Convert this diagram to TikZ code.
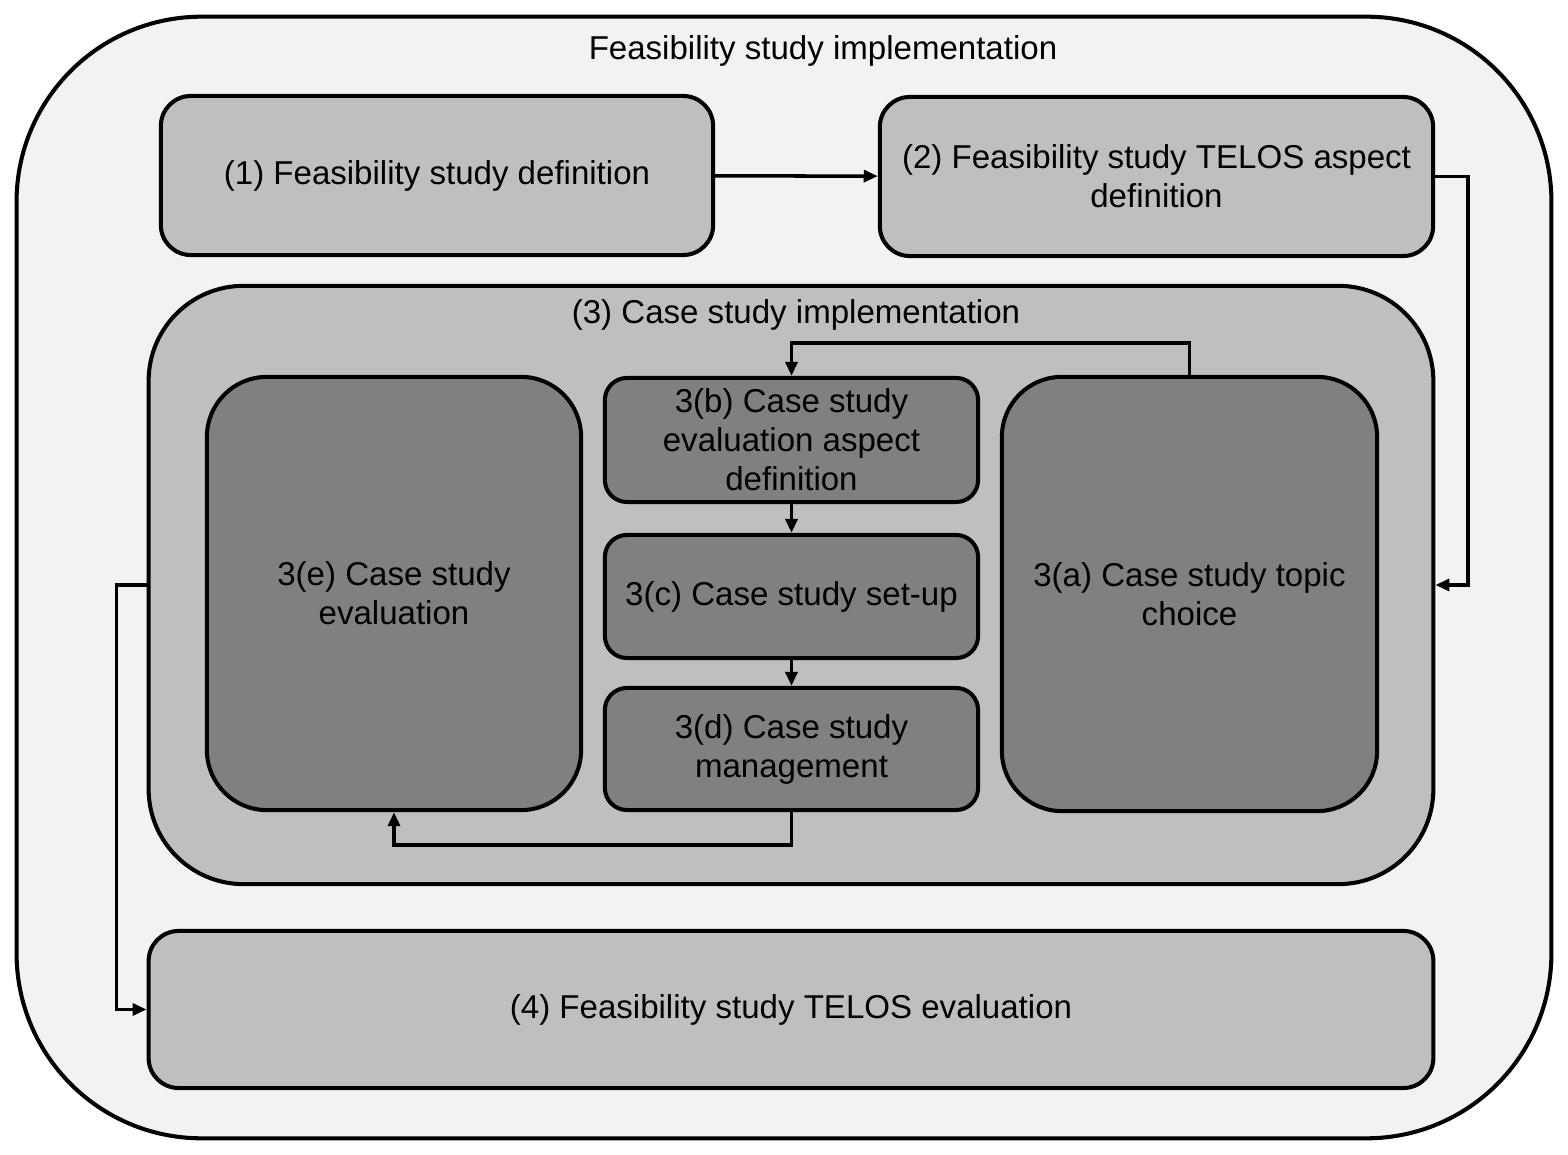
\documentclass[tikz,border=0pt]{standalone}
\usepackage{fontspec}
\setmainfont{Liberation Sans}
\usepackage{xcolor}
\usepackage{tikz}
\usetikzlibrary{positioning,arrows.meta,calc}
\definecolor{palegray}{RGB}{242,242,242}
\definecolor{midgray}{RGB}{191,191,191}
\definecolor{darkgray}{RGB}{128,128,128}

\begin{document}
\begin{tikzpicture}[x=0.01cm, y=-0.01cm,
        box/.style={rectangle, draw=black, line width=1.15pt, fill=midgray,
                    inner sep=0pt, align=center,
                    font=\fontsize{9.4}{11.1}\selectfont},
        sub/.style={box, fill=darkgray},
        txt/.style={inner sep=0pt, font=\fontsize{9.4}{11.1}\selectfont},
        arr/.style={-{Triangle[length=4pt,width=3.4pt]}, line width=1pt, black}
      ]
        \useasboundingbox (0,0) rectangle (1568,1155);
        % outer frame
        \node[box, fill=palegray, rounded corners=1.85cm,
              minimum width=15.34cm, minimum height=11.21cm] (outer) at (784,577.5) {};
        \node[txt] (title) at (823,51) {Feasibility study implementation};
        % top row
        \node[box, rounded corners=0.3cm, minimum width=5.52cm, minimum height=1.59cm]
              (b1) at (437,175.5) {(1) Feasibility study definition};
        \node[box, rounded corners=0.3cm, minimum width=5.53cm, minimum height=1.59cm]
              (b2) at (1156.5,176.5) {(2) Feasibility study TELOS aspect\\definition};
        % case study block
        \node[box, rounded corners=0.95cm, minimum width=12.84cm, minimum height=5.98cm]
              (b3) at (791,585) {};
        \node[txt] (t3) at (796,315) {(3) Case study implementation};
        \node[sub, rounded corners=0.6cm, minimum width=3.74cm, minimum height=4.33cm]
              (s3e) at (394,593.5) {3(e) Case study\\evaluation};
        \node[sub, rounded corners=0.22cm, minimum width=3.73cm, minimum height=1.24cm]
              (s3b) at (791.5,440) {3(b) Case study\\evaluation aspect\\definition};
        \node[sub, rounded corners=0.22cm, minimum width=3.73cm, minimum height=1.23cm]
              (s3c) at (791.5,596.5) {3(c) Case study set-up};
        \node[sub, rounded corners=0.22cm, minimum width=3.73cm, minimum height=1.22cm]
              (s3d) at (791.5,749) {3(d) Case study\\management};
        \node[sub, rounded corners=0.6cm, minimum width=3.75cm, minimum height=4.34cm]
              (s3a) at (1189.5,594) {3(a) Case study topic\\choice};
        % evaluation
        \node[box, rounded corners=0.3cm, minimum width=12.84cm, minimum height=1.57cm]
              (b4) at (791,1009.5) {(4) Feasibility study TELOS evaluation};
        % connectors
        \draw[arr] (b1) -- (b2);
        \draw[arr] (b2.east) -- ++(33,0) |- (b3.east);
        \draw[arr] (s3a.north) -- ++(0,-32) -| (s3b.north);
        \draw[arr] (s3b) -- (s3c);
        \draw[arr] (s3c) -- (s3d);
        \draw[arr] (s3d.south) -- ++(0,33) -| (s3e.south);
        \draw[arr] (b3.west) -- ++(-30,0) |- (b4.west);
      \end{tikzpicture}
\end{document}
